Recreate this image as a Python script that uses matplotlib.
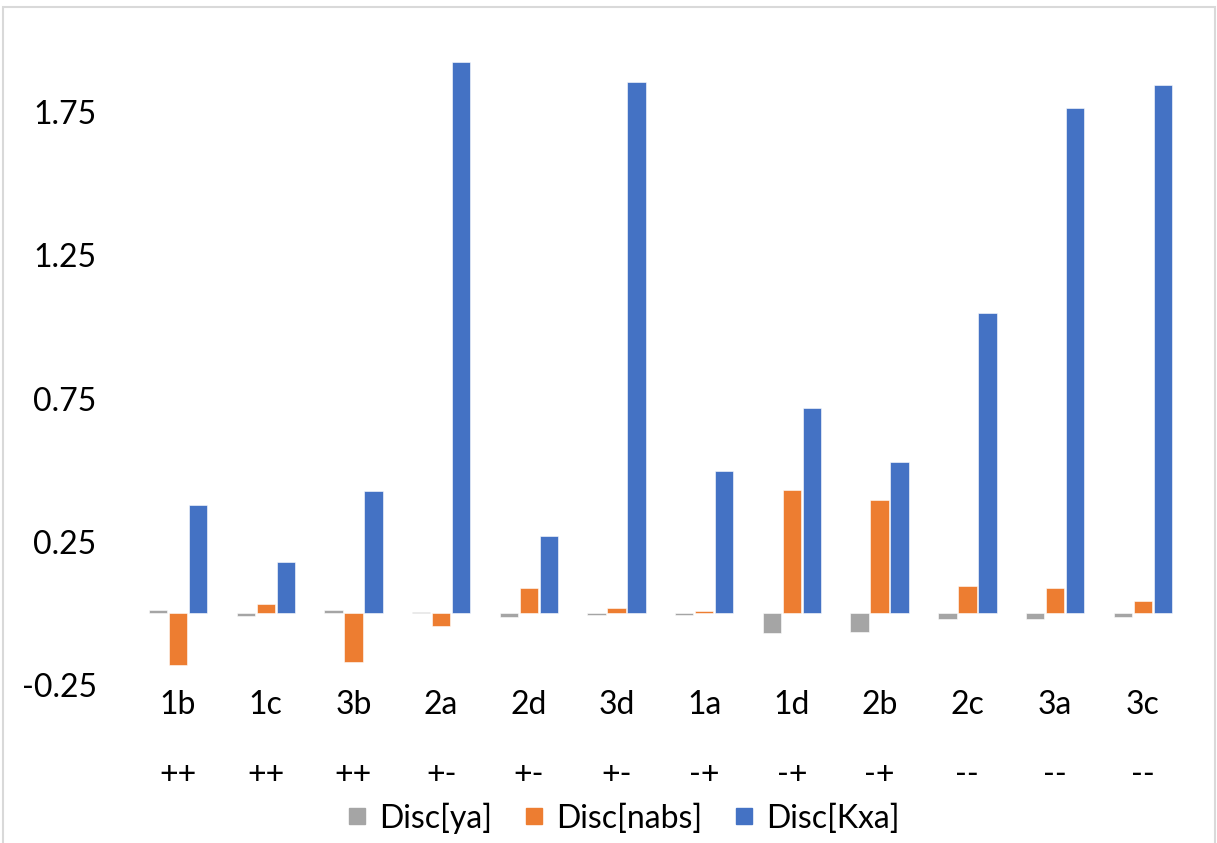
import matplotlib
matplotlib.use("Agg")
import matplotlib.pyplot as plt
import matplotlib.transforms as mtransforms
from matplotlib.lines import Line2D
from matplotlib.patches import Rectangle
import numpy as np

# data
samples = ["1b", "1c", "3b", "2a", "2d", "3d", "1a", "1d", "2b", "2c", "3a", "3c"]
signs = ["++", "++", "++", "+-", "+-", "+-", "-+", "-+", "-+", "--", "--", "--"]
disc_ya = [0.012, -0.008, 0.012, 0.006, -0.012, -0.007, -0.007, -0.068, -0.064, -0.02, -0.019, -0.013]
disc_nabs = [-0.18, 0.034, -0.168, -0.043, 0.087, 0.018, 0.009, 0.432, 0.397, 0.094, 0.087, 0.043]
disc_kxa = [0.379, 0.18, 0.428, 1.925, 0.271, 1.855, 0.497, 0.717, 0.528, 1.047, 1.764, 1.845]
series_names = ["Disc[ya]", "Disc[nabs]", "Disc[Kxa]"]
colors = ["#A5A5A5", "#ED7D31", "#4472C4"]
yticks = [-0.25, 0.25, 0.75, 1.25, 1.75]

plt.rcParams["font.family"] = ["Lato", "DejaVu Sans"]
FS = 23

W, H = 1217, 843
fig = plt.figure(figsize=(W / 100, H / 100), dpi=100)
ax = fig.add_axes([134.2 / W, 158 / H, 1052.4 / W, 644.5 / H])

x = np.arange(len(samples))
pitch = 0.228
width = 0.21
for k, (vals, col) in enumerate(zip([disc_ya, disc_nabs, disc_kxa], colors)):
    ax.bar(x + (k - 1) * pitch, vals, width, color=col, edgecolor="white", linewidth=0.4)

ax.set_xlim(-0.5, len(samples) - 0.5)
ax.set_ylim(-0.25, 2.0)
ax.set_yticks(yticks)
ax.set_yticklabels([f"{t:.2f}" for t in yticks], fontsize=FS)
ax.tick_params(axis="y", length=0, pad=27)
ax.set_xticks([])
for s in ax.spines.values():
    s.set_visible(False)

# two-row category labels below the plot
trans = mtransforms.blended_transform_factory(ax.transData, fig.transFigure)
for i in range(len(samples)):
    ax.text(x[i], (H - 705) / H, samples[i], transform=trans, ha="center", va="center", fontsize=FS)
    ax.text(x[i], (H - 775) / H, signs[i], transform=trans, ha="center", va="center", fontsize=FS)

handles = [Line2D([], [], linestyle="none", marker="s", markersize=11, color=c) for c in colors]
fig.legend(handles, series_names, loc="center", bbox_to_anchor=(622 / W, (H - 818) / H),
           ncol=3, frameon=False, fontsize=FS, handlelength=0.8, handletextpad=0.3,
           columnspacing=0.9, borderpad=0)

# light chart-area border
fig.patches.append(Rectangle((3 / W, -0.05), 1212 / W, 0.05 + (H - 7) / H, transform=fig.transFigure,
                             fill=False, edgecolor="#D9D9D9", linewidth=1.5))

fig.savefig("out.png", dpi=100, facecolor="white")
